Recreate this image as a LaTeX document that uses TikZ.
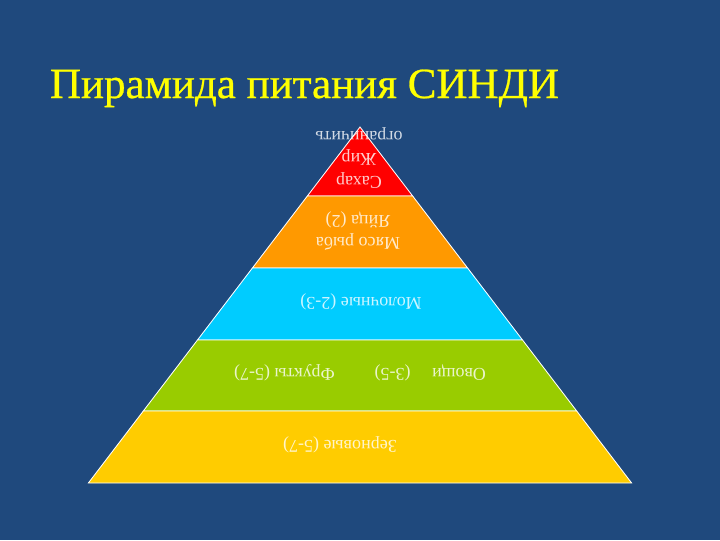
\documentclass[tikz,border=0pt]{standalone}
\usepackage{fontspec}
\setmainfont{Liberation Serif}
\newfontfamily\titlefont[FakeBold=0.6]{Liberation Serif}
\definecolor{slide}{RGB}{31,73,125}
\definecolor{titleyellow}{RGB}{255,255,0}
\definecolor{sugar}{RGB}{255,0,0}
\definecolor{meat}{RGB}{255,153,0}
\definecolor{milk}{RGB}{0,204,255}
\definecolor{veg}{RGB}{153,204,0}
\definecolor{grain}{RGB}{255,204,0}
\tikzset{
  level text/.style={rotate=180,font=\fontsize{12.8}{15.8}\selectfont,
    text=white,text opacity=.8,align=center}
}
\begin{document}
\begin{tikzpicture}[x=0.025cm,y=-0.025cm]
    \fill[slide] (0,0) rectangle (720,540);
    \useasboundingbox (0,0) rectangle (720,540);
    \path (45,98) node[anchor=base west,text=titleyellow,font=\titlefont\fontsize{30.6}{37}\selectfont] (title) {Пирамида питания СИНДИ};
    \foreach \a/\b/\c in {127/196/sugar,196/268/meat,268/340/milk,340/411/veg,411/483/grain}
      \filldraw[fill=\c,draw=white,line width=.6pt] ({360-.763*(\a-127)},\a) -- ({360+.763*(\a-127)},\a)
        -- ({360+.763*(\b-127)},\b) -- ({360-.763*(\b-127)},\b) -- cycle;
    \path (340,445) node[level text] (grainlabel) {Зерновые (5-7)};
    \path (360,373) node[level text] (veglabel) {Овощи\hspace{1.2em}(3-5)\hspace{2.2em}Фрукты (5-7)};
    \path (361,302) node[level text] (milklabel) {Молочные (2-3)};
    \path (358,231) node[level text] (meatlabel) {Мясо рыба\\Яйца (2)};
    \path (359,158) node[level text] (sugarlabel) {Сахар\\Жир\\ограничить};
  \end{tikzpicture}
\end{document}
